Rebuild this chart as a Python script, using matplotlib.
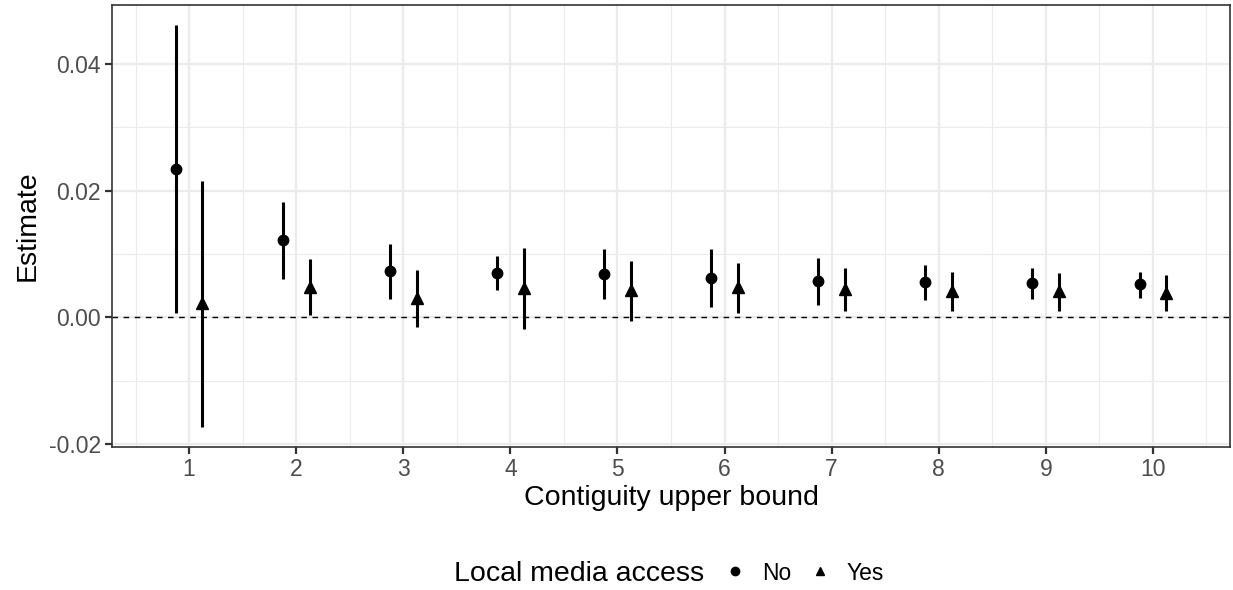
import numpy as np
import matplotlib.pyplot as plt
from matplotlib.ticker import FixedLocator

plt.rcParams['font.family'] = ['Liberation Sans', 'DejaVu Sans']

# contiguity upper bound
bounds = [1, 2, 3, 4, 5, 6, 7, 8, 9, 10]

# local media access = No
est_no = [0.0234, 0.0122, 0.0073, 0.0070, 0.0068, 0.0062, 0.0057, 0.0055, 0.0054, 0.0052]
lo_no = [0.0006, 0.0061, 0.0029, 0.0043, 0.0028, 0.0016, 0.0020, 0.0027, 0.0029, 0.0031]
hi_no = [0.0462, 0.0182, 0.0116, 0.0096, 0.0107, 0.0107, 0.0094, 0.0083, 0.0078, 0.0072]

# local media access = Yes
est_yes = [0.0022, 0.0048, 0.0031, 0.0046, 0.0043, 0.0047, 0.0044, 0.0041, 0.0041, 0.0038]
lo_yes = [-0.0174, 0.0003, -0.0016, -0.0019, -0.0006, 0.0006, 0.0009, 0.0010, 0.0010, 0.0010]
hi_yes = [0.0215, 0.0092, 0.0075, 0.0109, 0.0088, 0.0086, 0.0078, 0.0072, 0.0070, 0.0066]

dodge = 0.125
x = np.array(bounds, dtype=float)

fig = plt.figure(figsize=(12.33, 5.9), dpi=100)
ax = fig.add_axes([112 / 1233, 1 - 447 / 590, (1230 - 112) / 1233, (447 - 5) / 590])

# grid, ggplot theme_bw style
ax.set_axisbelow(True)
ax.xaxis.set_minor_locator(FixedLocator(np.arange(0.5, 11, 1)))
ax.yaxis.set_minor_locator(FixedLocator([-0.01, 0.01, 0.03]))
ax.grid(which='major', color='#EBEBEB', linewidth=1.6)
ax.grid(which='minor', color='#EBEBEB', linewidth=0.8)

ax.axhline(0, color='black', linewidth=1.0, linestyle=(0, (4, 4)), zorder=1)

ax.vlines(x - dodge, lo_no, hi_no, color='black', linewidth=2.2, zorder=2)
ax.plot(x - dodge, est_no, 'o', color='black', markersize=7.5, zorder=3, label='No')
ax.vlines(x + dodge, lo_yes, hi_yes, color='black', linewidth=2.2, zorder=2)
ax.plot(x + dodge, est_yes, '^', color='black', markersize=8, zorder=3, label='Yes')

ax.set_xlim(0.28, 10.72)
ax.set_ylim(-0.0205, 0.0493)
ax.set_xticks(bounds)
ax.set_yticks([-0.02, 0.0, 0.02, 0.04])
ax.set_yticklabels(['-0.02', '0.00', '0.02', '0.04'])

for s in ax.spines.values():
    s.set_color('#333333')
    s.set_linewidth(1.2)
ax.tick_params(which='major', length=5, width=1.6, color='#333333', labelcolor='#4D4D4D',
               labelsize=16.5, pad=3)
ax.tick_params(which='minor', length=0)

ax.set_xlabel('Contiguity upper bound', fontsize=20.5, labelpad=3)
ax.set_ylabel('Estimate', fontsize=20.5, labelpad=6)

# legend at bottom, title on the left
fig.text(454 / 1233, 1 - 574 / 590, 'Local media access', fontsize=20.5, va='center', ha='left')
handles, labels = ax.get_legend_handles_labels()
fig.legend(handles, labels, loc='center left', bbox_to_anchor=(725 / 1233, 1 - 573 / 590),
           ncol=2, frameon=False, fontsize=16.5, handlelength=0.9, handletextpad=0.72,
           columnspacing=0.8, borderpad=0, borderaxespad=0, markerscale=0.8)

fig.savefig('out.png', dpi=100)
plt.close('all')
